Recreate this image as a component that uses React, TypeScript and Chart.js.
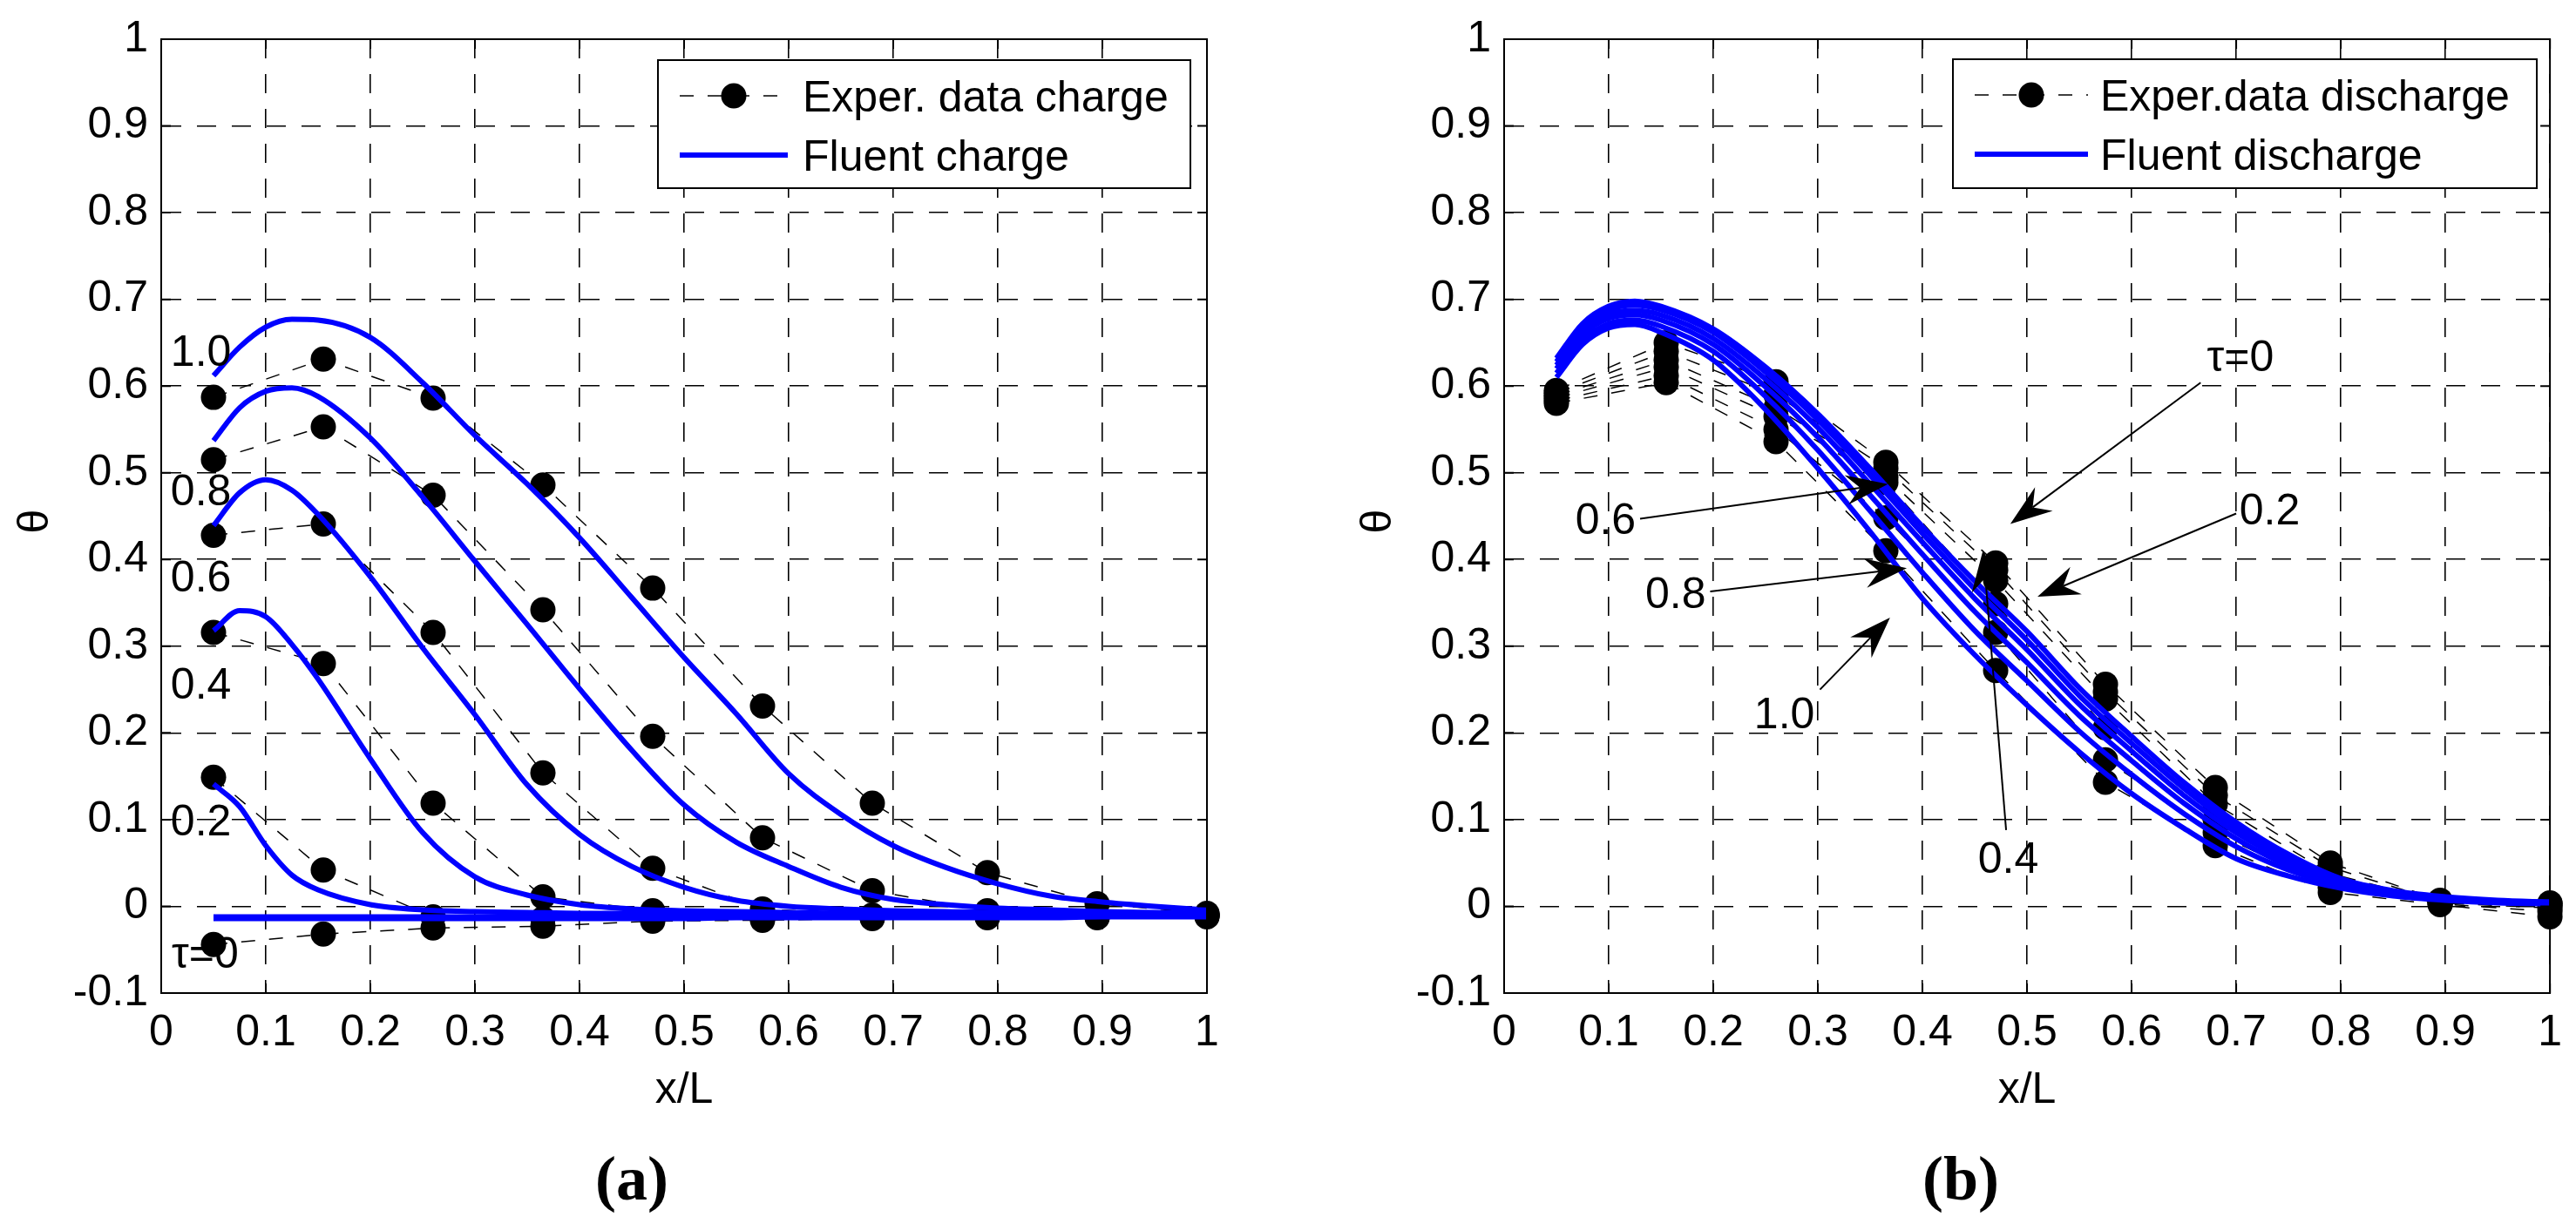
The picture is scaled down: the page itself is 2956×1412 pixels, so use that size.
import React, { useEffect, useRef } from 'react';
import { Chart, registerables } from 'chart.js';

Chart.register(...registerables);

// ---------------- data ----------------
// thermocouple positions (experimental points)
const expX = [0.05, 0.155, 0.26, 0.365, 0.47, 0.575, 0.68, 0.79, 0.895, 1.0];
const simX = [0.05, 0.075, 0.1, 0.125, 0.15, 0.2, 0.25, 0.3, 0.35, 0.4, 0.45, 0.5, 0.55, 0.6, 0.65, 0.7, 0.75, 0.8, 0.85, 0.9, 0.95, 1.0];

const xTickValues = [0, 0.1, 0.2, 0.3, 0.4, 0.5, 0.6, 0.7, 0.8, 0.9, 1];
const xTickLabels = ['0', '0.1', '0.2', '0.3', '0.4', '0.5', '0.6', '0.7', '0.8', '0.9', '1'];
const yTickValues = [-0.1, 0, 0.1, 0.2, 0.3, 0.4, 0.5, 0.6, 0.7, 0.8, 0.9, 1];
const yTickLabels = ['-0.1', '0', '0.1', '0.2', '0.3', '0.4', '0.5', '0.6', '0.7', '0.8', '0.9', '1'];

// (a) charge – experimental, one array per tau
const chargeExpT0 = [-0.044, -0.032, -0.025, -0.023, -0.017, -0.016, -0.014, -0.013, -0.013, -0.012];
const chargeExpT02 = [0.149, 0.042, -0.012, -0.014, -0.015, -0.014, -0.013, -0.012, -0.012, -0.011];
const chargeExpT04 = [0.316, 0.280, 0.119, 0.011, -0.005, -0.012, -0.012, -0.012, -0.012, -0.011];
const chargeExpT06 = [0.428, 0.441, 0.316, 0.154, 0.044, -0.003, -0.010, -0.012, -0.011, -0.010];
const chargeExpT08 = [0.515, 0.553, 0.474, 0.342, 0.196, 0.079, 0.018, -0.005, -0.010, -0.009];
const chargeExpT10 = [0.587, 0.631, 0.586, 0.486, 0.367, 0.231, 0.119, 0.039, 0.003, -0.008];

// (a) charge – Fluent
const chargeSimT0 = [-0.013, -0.013, -0.013, -0.013, -0.013, -0.013, -0.013, -0.013, -0.013, -0.013, -0.013, -0.013, -0.012, -0.012, -0.012, -0.012, -0.012, -0.012, -0.012, -0.011, -0.011, -0.011];
const chargeSimT02 = [0.141, 0.115, 0.070, 0.036, 0.019, 0.002, -0.004, -0.006, -0.007, -0.008, -0.008, -0.009, -0.009, -0.009, -0.009, -0.009, -0.009, -0.009, -0.009, -0.009, -0.009, -0.009];
const chargeSimT04 = [0.318, 0.341, 0.334, 0.302, 0.262, 0.170, 0.085, 0.034, 0.013, 0.002, -0.003, -0.005, -0.006, -0.007, -0.008, -0.008, -0.008, -0.009, -0.009, -0.009, -0.009, -0.009];
const chargeSimT06 = [0.439, 0.477, 0.492, 0.480, 0.452, 0.380, 0.298, 0.221, 0.140, 0.083, 0.046, 0.022, 0.007, 0.000, -0.003, -0.005, -0.006, -0.007, -0.007, -0.008, -0.008, -0.008];
const chargeSimT08 = [0.537, 0.575, 0.594, 0.598, 0.588, 0.540, 0.472, 0.398, 0.325, 0.251, 0.180, 0.117, 0.074, 0.046, 0.022, 0.008, 0.002, -0.002, -0.004, -0.006, -0.007, -0.008];
const chargeSimT10 = [0.612, 0.645, 0.668, 0.677, 0.676, 0.656, 0.604, 0.543, 0.487, 0.425, 0.356, 0.287, 0.222, 0.153, 0.106, 0.070, 0.045, 0.026, 0.012, 0.005, 0.000, -0.004];

// (b) discharge – experimental
const dischExpT0 = [0.595, 0.650, 0.605, 0.512, 0.396, 0.256, 0.137, 0.050, 0.007, 0.004];
const dischExpT02 = [0.592, 0.640, 0.590, 0.505, 0.388, 0.247, 0.128, 0.045, 0.006, 0.003];
const dischExpT04 = [0.589, 0.630, 0.575, 0.495, 0.376, 0.239, 0.118, 0.038, 0.005, 0.001];
const dischExpT06 = [0.586, 0.622, 0.565, 0.489, 0.349, 0.206, 0.100, 0.030, 0.004, -0.002];
const dischExpT08 = [0.583, 0.612, 0.550, 0.448, 0.316, 0.169, 0.085, 0.022, 0.003, -0.006];
const dischExpT10 = [0.580, 0.604, 0.536, 0.410, 0.272, 0.143, 0.070, 0.016, 0.002, -0.012];

// (b) discharge – Fluent
const dischSimT0 = [0.632, 0.672, 0.692, 0.698, 0.692, 0.666, 0.622, 0.568, 0.505, 0.438, 0.375, 0.317, 0.252, 0.196, 0.143, 0.097, 0.060, 0.032, 0.018, 0.011, 0.007, 0.005];
const dischSimT02 = [0.628, 0.668, 0.688, 0.693, 0.688, 0.662, 0.616, 0.561, 0.497, 0.430, 0.366, 0.307, 0.243, 0.188, 0.136, 0.091, 0.056, 0.030, 0.017, 0.010, 0.006, 0.005];
const dischSimT04 = [0.624, 0.664, 0.683, 0.687, 0.682, 0.655, 0.608, 0.552, 0.487, 0.420, 0.355, 0.296, 0.233, 0.179, 0.128, 0.085, 0.052, 0.028, 0.016, 0.010, 0.006, 0.004];
const dischSimT06 = [0.620, 0.659, 0.678, 0.682, 0.676, 0.648, 0.599, 0.541, 0.474, 0.406, 0.340, 0.281, 0.220, 0.168, 0.119, 0.078, 0.047, 0.026, 0.015, 0.009, 0.005, 0.004];
const dischSimT08 = [0.615, 0.653, 0.672, 0.676, 0.669, 0.640, 0.588, 0.526, 0.456, 0.385, 0.318, 0.260, 0.202, 0.152, 0.107, 0.069, 0.042, 0.024, 0.014, 0.008, 0.005, 0.003];
const dischSimT10 = [0.610, 0.648, 0.667, 0.671, 0.662, 0.630, 0.573, 0.505, 0.432, 0.355, 0.290, 0.232, 0.178, 0.130, 0.090, 0.055, 0.035, 0.021, 0.012, 0.007, 0.004, 0.003];

// text annotations (data coordinates)
const chargeNotes = [
  { text: '1.0', x: 0.038, y: 0.641 },
  { text: '0.8', x: 0.038, y: 0.481 },
  { text: '0.6', x: 0.038, y: 0.381 },
  { text: '0.4', x: 0.038, y: 0.258 },
  { text: '0.2', x: 0.038, y: 0.100 },
  { text: 'τ=0', x: 0.042, y: -0.053 },
];
const dischargeNotes = [
  { text: 'τ=0', x: 0.704, y: 0.635 },
  { text: '0.2', x: 0.732, y: 0.458 },
  { text: '0.6', x: 0.097, y: 0.447 },
  { text: '0.8', x: 0.164, y: 0.362 },
  { text: '1.0', x: 0.268, y: 0.223 },
  { text: '0.4', x: 0.482, y: 0.057 },
];
const dischargeArrows = [
  { x0: 0.666, y0: 0.604, x1: 0.484, y1: 0.441 },
  { x0: 0.700, y0: 0.453, x1: 0.510, y1: 0.357 },
  { x0: 0.130, y0: 0.447, x1: 0.367, y1: 0.487 },
  { x0: 0.197, y0: 0.363, x1: 0.385, y1: 0.390 },
  { x0: 0.302, y0: 0.250, x1: 0.369, y1: 0.333 },
  { x0: 0.480, y0: 0.088, x1: 0.458, y1: 0.411 },
];

// ---------------- styling ----------------
const FONT = "'Liberation Sans', Arial, Helvetica, sans-serif";
const FS = 50;
const BLUE = '#0000ff';
const DATA_DASH = [16, 16];
const GRID_DASH = [22, 18];
const MARKER_R = 14.5;

function toPts(xs: number[], ys: number[]) {
  return xs.map((x, i) => ({ x, y: ys[i] }));
}

function buildDatasets(exp: number[][], sim: number[][], flatFirst: boolean) {
  const ds: any[] = [];
  sim.forEach((s, k) => {
    ds.push({
      data: toPts(simX, s),
      borderColor: BLUE,
      borderWidth: flatFirst && k === 0 ? 8 : 6,
      pointRadius: 0,
      cubicInterpolationMode: 'monotone',
      fill: false,
      order: 1,
    });
  });
  exp.forEach((e) => {
    ds.push({
      data: toPts(expX, e),
      borderColor: '#000',
      borderWidth: 1.5,
      borderDash: DATA_DASH,
      pointRadius: MARKER_R,
      pointHoverRadius: MARKER_R,
      pointBackgroundColor: '#000',
      pointBorderColor: '#000',
      pointBorderWidth: 0,
      tension: 0,
      fill: false,
      clip: false,
      order: 2,
    });
  });
  return ds;
}

function drawArrow(ctx: CanvasRenderingContext2D, x0: number, y0: number, x1: number, y1: number) {
  const dx = x1 - x0, dy = y1 - y0;
  const len = Math.hypot(dx, dy);
  const ux = dx / len, uy = dy / len;
  const px = -uy, py = ux;
  const L = 48, W = 17, N = 32;
  ctx.beginPath();
  ctx.moveTo(x0, y0);
  ctx.lineTo(x1 - ux * N, y1 - uy * N);
  ctx.stroke();
  ctx.beginPath();
  ctx.moveTo(x1, y1);
  ctx.lineTo(x1 - ux * L + px * W, y1 - uy * L + py * W);
  ctx.lineTo(x1 - ux * N, y1 - uy * N);
  ctx.lineTo(x1 - ux * L - px * W, y1 - uy * L - py * W);
  ctx.closePath();
  ctx.fill();
}

function decorPlugin(cfg: any) {
  return {
    id: 'decor',
    afterDraw(chart: any) {
      const { ctx, chartArea: ca, scales } = chart;
      const xs = scales.x, ys = scales.y;
      ctx.save();
      ctx.setLineDash([]);
      ctx.strokeStyle = '#000';
      ctx.fillStyle = '#000';
      // inner tick marks
      ctx.lineWidth = 2;
      ctx.beginPath();
      xTickValues.forEach((v) => {
        const p = xs.getPixelForValue(v);
        ctx.moveTo(p, ca.bottom); ctx.lineTo(p, ca.bottom - 11);
        ctx.moveTo(p, ca.top); ctx.lineTo(p, ca.top + 11);
      });
      yTickValues.forEach((v) => {
        const p = ys.getPixelForValue(v);
        ctx.moveTo(ca.left, p); ctx.lineTo(ca.left + 11, p);
        ctx.moveTo(ca.right, p); ctx.lineTo(ca.right - 11, p);
      });
      ctx.stroke();
      // frame
      ctx.lineWidth = 2;
      ctx.strokeRect(ca.left, ca.top, ca.right - ca.left, ca.bottom - ca.top);

      // notes
      ctx.font = `${FS}px ${FONT}`;
      ctx.textAlign = 'center';
      ctx.textBaseline = 'alphabetic';
      cfg.notes.forEach((n: any) => {
        ctx.fillText(n.text, xs.getPixelForValue(n.x), ys.getPixelForValue(n.y) + FS * 0.358);
      });
      // arrows
      ctx.lineWidth = 2;
      cfg.arrows.forEach((a: any) => {
        drawArrow(ctx, xs.getPixelForValue(a.x0), ys.getPixelForValue(a.y0), xs.getPixelForValue(a.x1), ys.getPixelForValue(a.y1));
      });

      // legend
      const lg = cfg.legend;
      const bx = ca.left + lg.dx, by = ca.top + lg.dy;
      ctx.fillStyle = '#fff';
      ctx.fillRect(bx, by, lg.w, lg.h);
      ctx.fillStyle = '#000';
      ctx.lineWidth = 2;
      ctx.strokeRect(bx, by, lg.w, lg.h);
      const r1 = by + lg.row1, r2 = by + lg.row2;
      ctx.lineWidth = 1.5;
      ctx.setLineDash(DATA_DASH);
      ctx.beginPath();
      ctx.moveTo(bx + lg.lx0, r1); ctx.lineTo(bx + lg.lx1, r1);
      ctx.stroke();
      ctx.setLineDash([]);
      ctx.beginPath();
      ctx.arc(bx + (lg.lx0 + lg.lx1) / 2, r1, MARKER_R, 0, Math.PI * 2);
      ctx.fill();
      ctx.strokeStyle = BLUE;
      ctx.lineWidth = 6;
      ctx.beginPath();
      ctx.moveTo(bx + lg.lx0, r2); ctx.lineTo(bx + lg.lx1, r2);
      ctx.stroke();
      ctx.fillStyle = '#000';
      ctx.textAlign = 'left';
      ctx.fillText(cfg.legendExp, bx + lg.tx, r1 + FS * 0.358);
      ctx.fillText(cfg.legendSim, bx + lg.tx, r2 + FS * 0.358);

      // axis titles
      ctx.textAlign = 'center';
      ctx.fillText('x/L', (ca.left + ca.right) / 2, 1248 + FS * 0.358);
      ctx.save();
      ctx.translate(ca.left - 148, (ca.top + ca.bottom) / 2 + 6);
      ctx.rotate(-Math.PI / 2);
      ctx.fillText('θ', 0, FS * 0.36);
      ctx.restore();

      // panel tag
      ctx.font = `bold 72px 'Liberation Serif', 'Times New Roman', serif`;
      ctx.textBaseline = 'middle';
      ctx.fillText(cfg.tag, cfg.tagX, 1358);
      ctx.restore();
    },
  };
}

function makeChart(canvas: HTMLCanvasElement, cfg: any) {
  const tickFont = { family: FONT, size: FS };
  return new Chart(canvas, {
    type: 'line',
    data: { datasets: buildDatasets(cfg.exp, cfg.sim, cfg.flatFirst) },
    options: {
      animation: false,
      responsive: false,
      devicePixelRatio: 1,
      events: [],
      layout: { padding: { left: 0, right: cfg.padRight, top: 37, bottom: 0 } },
      plugins: { legend: { display: false }, tooltip: { enabled: false }, title: { display: false } },
      scales: {
        x: {
          type: 'linear',
          min: 0,
          max: 1,
          afterBuildTicks: (s: any) => { s.ticks = xTickValues.map((v) => ({ value: v })); },
          afterFit: (s: any) => { s.height = 272; },
          ticks: {
            callback: (_v: any, i: number) => xTickLabels[i],
            font: tickFont,
            color: '#000',
            padding: 16,
            maxRotation: 0,
            autoSkip: false,
          },
          grid: { color: '#000', lineWidth: 1.6, drawTicks: false },
          border: { display: true, color: '#000', width: 2, dash: GRID_DASH },
        },
        y: {
          type: 'linear',
          min: -0.1,
          max: 1,
          afterBuildTicks: (s: any) => { s.ticks = yTickValues.map((v) => ({ value: v })); },
          afterFit: (s: any) => { s.width = cfg.yWidth; },
          ticks: {
            callback: (_v: any, i: number) => yTickLabels[i],
            font: tickFont,
            color: '#000',
            padding: 15,
            autoSkip: false,
          },
          grid: { color: '#000', lineWidth: 1.6, drawTicks: false },
          border: { display: true, color: '#000', width: 2, dash: GRID_DASH },
        },
      },
    },
    plugins: [decorPlugin(cfg)],
  } as any);
}

const panelA = {
  exp: [chargeExpT0, chargeExpT02, chargeExpT04, chargeExpT06, chargeExpT08, chargeExpT10],
  sim: [chargeSimT0, chargeSimT02, chargeSimT04, chargeSimT06, chargeSimT08, chargeSimT10],
  flatFirst: true,
  notes: chargeNotes,
  arrows: [],
  legendExp: 'Exper. data charge',
  legendSim: 'Fluent charge',
  legend: { dx: 570, dy: 24, w: 611, h: 147, lx0: 25, lx1: 149, tx: 166, row1: 41, row2: 109 },
  tag: '(a)',
  tagX: 725,
  yWidth: 185,
  padRight: 93,
};

const panelB = {
  exp: [dischExpT0, dischExpT02, dischExpT04, dischExpT06, dischExpT08, dischExpT10],
  sim: [dischSimT0, dischSimT02, dischSimT04, dischSimT06, dischSimT08, dischSimT10],
  flatFirst: false,
  notes: dischargeNotes,
  arrows: dischargeArrows,
  legendExp: 'Exper.data discharge',
  legendSim: 'Fluent discharge',
  legend: { dx: 515, dy: 23, w: 670, h: 148, lx0: 25, lx1: 155, tx: 169, row1: 41, row2: 109 },
  tag: '(b)',
  tagX: 772,
  yWidth: 248,
  padRight: 26,
};

export default function App() {
  const refA = useRef<HTMLCanvasElement>(null);
  const refB = useRef<HTMLCanvasElement>(null);
  useEffect(() => {
    const a = makeChart(refA.current as HTMLCanvasElement, panelA);
    const b = makeChart(refB.current as HTMLCanvasElement, panelB);
    return () => { a.destroy(); b.destroy(); };
  }, []);
  const cs: React.CSSProperties = { position: 'absolute', top: 0, width: 1478, height: 1412 };
  return (
    <div style={{ position: 'fixed', left: 0, top: 0, width: 2956, height: 1412, background: '#fff' }}>
      <canvas ref={refA} width={1478} height={1412} style={{ ...cs, left: 0 }} />
      <canvas ref={refB} width={1478} height={1412} style={{ ...cs, left: 1478 }} />
    </div>
  );
}
